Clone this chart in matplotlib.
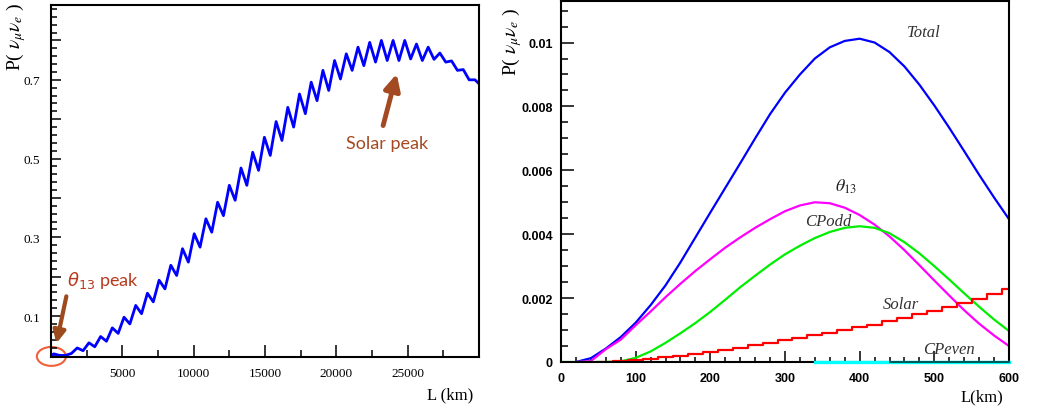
'''
Oscillation probability P(nu_mu -> nu_e) vs baseline, two panels
'''

import numpy as np
import matplotlib
matplotlib.use('Agg')
import matplotlib.pyplot as plt
from matplotlib.patches import Ellipse
from matplotlib.ticker import MultipleLocator, FuncFormatter

plt.rcParams['font.family'] = 'Liberation Serif'
plt.rcParams['mathtext.fontset'] = 'stix'

# left panel: long baseline, read every half wiggle (410 km)
left_L = np.concatenate([[0], np.arange(198, 30000, 410), [30000]])
left_P = [0.0,
          0.004, 0.0, 0.0, 0.005, 0.019, 0.012, 0.032, 0.022, 0.048, 0.036,
          0.070, 0.056, 0.097, 0.080, 0.127, 0.106, 0.158, 0.136, 0.191, 0.169,
          0.229, 0.203, 0.271, 0.237, 0.309, 0.275, 0.347, 0.313, 0.389, 0.355,
          0.432, 0.394, 0.476, 0.432, 0.516, 0.470, 0.554, 0.508, 0.594, 0.546,
          0.630, 0.580, 0.664, 0.614, 0.694, 0.647, 0.724, 0.673, 0.749, 0.702,
          0.766, 0.724, 0.783, 0.736, 0.795, 0.745, 0.800, 0.749, 0.800, 0.749,
          0.800, 0.753, 0.791, 0.749, 0.783, 0.752, 0.768, 0.745, 0.748, 0.724,
          0.726, 0.700, 0.700,
          0.690]

# right panel: short baseline, values every 20 km
nan = np.nan
right_L = np.arange(0, 601, 20)
total = [nan, 0.0, 0.00012, 0.00042, 0.00078, 0.00123, 0.00178, 0.0024,
         0.00312, 0.0039, 0.00468, 0.00545, 0.00622, 0.0070, 0.00776,
         0.00843, 0.0090, 0.0095, 0.00985, 0.01005, 0.01012, 0.0100, 0.0097,
         0.00925, 0.00868, 0.00803, 0.00733, 0.0066, 0.00586, 0.00515, 0.00447]
theta13 = [nan, 0.0, 0.00003, 0.0004, 0.0007, 0.00115, 0.00158, 0.00203,
           0.00245, 0.00285, 0.00322, 0.00358, 0.0039, 0.0042, 0.00447,
           0.00472, 0.0049, 0.0050, 0.00497, 0.00483, 0.0046, 0.0043, 0.00393,
           0.0035, 0.00303, 0.00255, 0.00208, 0.00162, 0.0012, 0.00083, 0.0005]
cpodd = [0.0, 0.0, 0.0, 0.0, 0.00002, 0.00013, 0.00033, 0.0006, 0.0009,
         0.00122, 0.00157, 0.00195, 0.00234, 0.0027, 0.00305, 0.00337,
         0.00364, 0.00388, 0.00407, 0.0042, 0.00425, 0.0042, 0.00403, 0.00375,
         0.0034, 0.0030, 0.00258, 0.00215, 0.00173, 0.00133, 0.00097]
solar = [nan, nan, nan, 0.0, 0.00002, 0.00006, 0.0001, 0.00016, 0.0002,
         0.00025, 0.0003, 0.00037, 0.00045, 0.00053, 0.0006, 0.00068, 0.00075,
         0.00083, 0.0009, 0.001, 0.00108, 0.00117, 0.00127, 0.00138, 0.0015,
         0.0016, 0.00172, 0.00185, 0.00198, 0.00212, 0.00228]
cpeven = [nan] * 17 + [0.0] * 14

W, H = 1058, 410


def style_axis(ax, ymaj, ymin, xmaj, xmin, ylen, xlen):
    for sp in ax.spines.values():
        sp.set_linewidth(1.5)
    ax.yaxis.set_major_locator(MultipleLocator(ymaj))
    ax.yaxis.set_minor_locator(MultipleLocator(ymin))
    ax.xaxis.set_major_locator(MultipleLocator(xmaj))
    ax.xaxis.set_minor_locator(MultipleLocator(xmin))
    ax.tick_params(axis='both', which='both', direction='in',
                   top=False, right=False, width=1.1)
    ax.tick_params(axis='y', which='major', length=ylen[0], pad=8)
    ax.tick_params(axis='y', which='minor', length=ylen[1])
    ax.tick_params(axis='x', which='major', length=xlen[0], pad=7)
    ax.tick_params(axis='x', which='minor', length=xlen[1])


fig = plt.figure(figsize=(W / 100, H / 100), dpi=100)

# ---------------- left panel ----------------
ax1 = fig.add_axes([51 / W, 1 - 358 / H, 428 / W, 352 / H])
ax1.plot(left_L, left_P, color='#0000ff', lw=2)
ax1.set_xlim(0, 30000)
ax1.set_ylim(-0.004, 0.89)
style_axis(ax1, 0.1, 0.02, 5000, 2500, (7.5, 4.5), (8.5, 5))
ax1.yaxis.set_major_formatter(FuncFormatter(
    lambda v, p: ('%.1f' % v) if round(v * 10) % 2 == 1 else ''))
ax1.xaxis.set_major_formatter(FuncFormatter(
    lambda v, p: '' if v < 1 or v > 29000 else '%d' % v))
ax1.tick_params(labelsize=9.5)

ax1.text(23580, 0.539, 'Solar peak', color='#a34a22', fontsize=13,
         family=['Lato', 'DejaVu Sans'], ha='center', va='center')
ax1.annotate('', xy=(24280, 0.722), xytext=(23230, 0.577),
             arrowprops=dict(arrowstyle='-|>', lw=3.5, color='#a34a22',
                             mutation_scale=24))
ax1.text(1116, 0.192, r'$\theta_{13}$ peak', color='#b83a1e', fontsize=13,
         family=['Lato', 'DejaVu Sans'], math_fontfamily='dejavusans',
         ha='left', va='center')
ax1.annotate('', xy=(344, 0.024), xytext=(1116, 0.157),
             arrowprops=dict(arrowstyle='-|>', lw=3, color='#9c4a1e',
                             mutation_scale=18))
ax1.add_patch(Ellipse((28, -0.0025), 2036, 0.048, fill=False,
                      edgecolor='#f0603c', lw=1.5, clip_on=False))

# ---------------- right panel ----------------
ax2 = fig.add_axes([561 / W, 1 - 363 / H, 448 / W, 361 / H])
ax2.plot(right_L, total, color='#0000ff', lw=1.6)
ax2.plot(right_L, theta13, color='#ff00ff', lw=1.6)
ax2.plot(right_L, cpodd, color='#00ee00', lw=1.6)
ax2.plot(right_L, solar, drawstyle='steps-mid', color='#ff0000', lw=1.6)
ax2.plot(right_L, cpeven, color='#00ffff', lw=2.4, clip_on=False, zorder=3)
dark = [v if L >= 440 else nan for L, v in zip(right_L, cpeven)]
ax2.plot(right_L, dark, color='#003838', lw=1.2, clip_on=False, zorder=4)
ax2.set_xlim(0, 600)
ax2.set_ylim(0, 0.0113)
style_axis(ax2, 0.002, 0.0005, 100, 20, (9.5, 5), (8, 3.8))
ax2.yaxis.set_major_formatter(FuncFormatter(
    lambda v, p: '0' if abs(v) < 1e-9 else '%g' % v))
ax2.tick_params(axis='y', pad=6)
ax2.tick_params(labelsize=9)
for lab in ax2.get_xticklabels() + ax2.get_yticklabels():
    lab.set_fontfamily('Liberation Sans')
    lab.set_fontweight('bold')

for txt, x, y in [('Total', 486, 0.01032), ('CPodd', 358, 0.0044),
                  ('Solar', 455, 0.0018), ('CPeven', 520, 0.0004)]:
    ax2.text(x, y, txt, style='italic', fontsize=12, ha='center',
             va='center', color='#333333')
ax2.text(382, 0.0055, r'$\theta_{\mathit{13}}$', fontsize=13,
         ha='center', va='center', color='#222222')

# axis titles
ylab = r'P( $\nu_{\mu}\nu_{e}$ )'
fig.text(16 / W, 1 - 3 / H, ylab, rotation=90, ha='center', va='top',
         fontsize=14)
fig.text(512 / W, 1 - 8 / H, ylab, rotation=90, ha='center', va='top',
         fontsize=14)
fig.text(473 / W, 1 - 395 / H, 'L (km)', ha='right', va='center',
         fontsize=12)
fig.text(1003 / W, 1 - 397 / H, 'L(km)', ha='right', va='center',
         fontsize=12)

plt.savefig('out.png', dpi=100)
